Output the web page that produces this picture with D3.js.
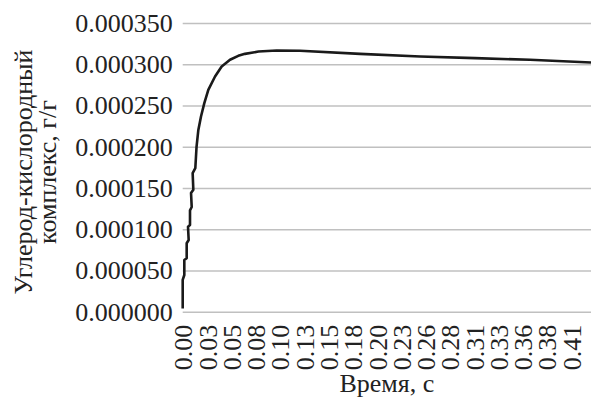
<!DOCTYPE html>
<html>
<head>
<meta charset="utf-8">
<script src="https://cdn.jsdelivr.net/npm/d3@7"></script>
<style>
  html, body { margin: 0; padding: 0; background: #fff; }
  svg text { font-family: "Liberation Serif", "Times New Roman", serif; fill: #222; }
</style>
</head>
<body>
<svg id="chart" width="591" height="401"></svg>
<script>
// Time, s
const time = [
  0.0000, 0.0000, 0.0017, 0.0017, 0.0042, 0.0042, 0.0063, 0.0056, 0.0077, 0.0077,
  0.0095, 0.0088, 0.0112, 0.0105, 0.0133, 0.0146, 0.0165, 0.0193, 0.0228, 0.0270,
  0.0341, 0.0411, 0.0499, 0.0586, 0.0657, 0.0800, 0.0991, 0.1237, 0.1870, 0.2505,
  0.3083, 0.3663, 0.4306
];
// Carbon-oxygen complex, g/g
const complex = [
  0.0000040, 0.0000385, 0.0000445, 0.0000627, 0.0000648, 0.0000830, 0.0000870, 0.0001030, 0.0001050, 0.0001230,
  0.0001270, 0.0001440, 0.0001480, 0.0001680, 0.0001740, 0.0002000, 0.0002205, 0.0002367, 0.0002529, 0.0002691,
  0.0002852, 0.0002973, 0.0003055, 0.0003103, 0.0003127, 0.0003155, 0.0003168, 0.0003164, 0.0003127, 0.0003095,
  0.0003075, 0.0003055, 0.0003022
];
const yTicks = [0, 0.00005, 0.0001, 0.00015, 0.0002, 0.00025, 0.0003, 0.00035];
const xTicks = [
  0.0000, 0.0256, 0.0512, 0.0768, 0.1024, 0.1280, 0.1536, 0.1792, 0.2048,
  0.2304, 0.2560, 0.2816, 0.3072, 0.3328, 0.3584, 0.3840, 0.4096
];
const yTitleLines = ["Углерод-кислородный", "комплекс, г/г"];
const xTitle = "Время, с";

const svg = d3.select("#chart");
const plotLeft = 182.7, plotRight = 591, plotTop = 23.1, plotBottom = 311.7;

const x = d3.scaleLinear().domain([0, 0.4306]).range([plotLeft, plotRight]);
const y = d3.scaleLinear().domain([0, 0.00035]).range([plotBottom, plotTop]);

// horizontal gridlines
const yAxis = d3.axisLeft(y).tickValues(yTicks).tickFormat(d3.format(".6f"))
  .tickSize(-(plotRight - plotLeft)).tickPadding(10);
const gy = svg.append("g").attr("transform", `translate(${plotLeft},0)`).call(yAxis);
gy.select(".domain").remove();
gy.selectAll(".tick line").attr("stroke", "#c0c0c0").attr("stroke-width", 1.5);
gy.selectAll(".tick text").attr("font-size", 26).attr("fill", "#222")
  .attr("font-family", "Liberation Serif, serif");

// time labels, rotated
const xAxis = d3.axisBottom(x).tickValues(xTicks).tickFormat(d3.format(".2f"))
  .tickSize(0).tickPadding(0);
const gx = svg.append("g").attr("transform", `translate(0,${plotBottom})`).call(xAxis);
gx.select(".domain").remove();
gx.selectAll(".tick text")
  .attr("font-size", 26).attr("fill", "#222").attr("font-family", "Liberation Serif, serif")
  .attr("text-anchor", "end").attr("dy", "0.35em")
  .attr("transform", "translate(0,13) rotate(-90)")
  .attr("x", 0).attr("y", 0);

// the series
const line = d3.line().x((d, i) => x(time[i])).y(d => y(d));
svg.append("path").datum(complex)
  .attr("d", line)
  .attr("fill", "none").attr("stroke", "#1a1a1a").attr("stroke-width", 2.6)
  .attr("stroke-linejoin", "round");

// axis titles
svg.append("text").attr("x", (plotLeft + plotRight) / 2).attr("y", 392)
  .attr("text-anchor", "middle").attr("font-size", 26).text(xTitle);

const yt = svg.append("text").attr("text-anchor", "middle").attr("font-size", 26)
  .attr("transform", "translate(32,172) rotate(-90)");
yt.selectAll("tspan").data(yTitleLines).join("tspan")
  .attr("x", 0).attr("dy", (d, i) => i === 0 ? 0 : 24).text(d => d);
</script>
</body>
</html>
